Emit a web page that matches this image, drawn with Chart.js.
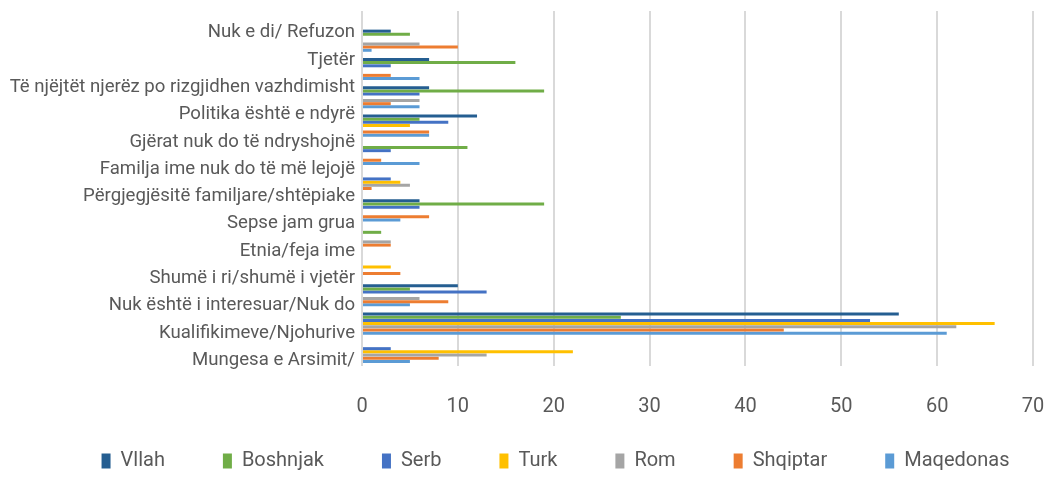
<!DOCTYPE html>
<html>
<head>
<meta charset="utf-8">
<script src="https://cdn.jsdelivr.net/npm/chart.js@4/dist/chart.umd.min.js"></script>
<style>
  html, body { margin: 0; padding: 0; background: #fff; }
  #wrap { width: 1055px; height: 484px; }
</style>
</head>
<body>
<div id="wrap"><canvas id="reasonsChart"></canvas></div>
<script>
// Reasons, top to bottom (one bar group each)
const categories = [
    'Nuk e di/ Refuzon',
    'Tjetër',
    'Të njëjtët njerëz po rizgjidhen vazhdimisht',
    'Politika është e ndyrë',
    'Gjërat nuk do të ndryshojnë',
    'Familja ime nuk do të më lejojë',
    'Përgjegjësitë familjare/shtëpiake',
    'Sepse jam grua',
    'Etnia/feja ime',
    'Shumë i ri/shumë i vjetër',
    'Nuk është i interesuar/Nuk do',
    'Mungesa e Arsimit/ Kualifikimeve/Njohurive'
];

// Axis text as it is printed (last reason wraps onto two lines)
const axisLabels = [
    'Nuk e di/ Refuzon',
    'Tjetër',
    'Të njëjtët njerëz po rizgjidhen vazhdimisht',
    'Politika është e ndyrë',
    'Gjërat nuk do të ndryshojnë',
    'Familja ime nuk do të më lejojë',
    'Përgjegjësitë familjare/shtëpiake',
    'Sepse jam grua',
    'Etnia/feja ime',
    'Shumë i ri/shumë i vjetër',
    'Nuk është i interesuar/Nuk do',
    'Kualifikimeve/Njohurive',
    'Mungesa e Arsimit/'
];

// Percent per ethnic group
const vllah     = [3, 7, 7, 12, 0, 0, 6, 0, 0, 10, 56, 0];
const boshnjak  = [5, 16, 19, 6, 11, 0, 19, 2, 0, 5, 27, 0];
const serb      = [0, 3, 6, 9, 3, 3, 6, 0, 0, 13, 53, 3];
const turk      = [0, 0, 0, 5, 0, 4, 0, 0, 3, 0, 66, 22];
const rom       = [6, 0, 6, 0, 0, 5, 0, 3, 0, 6, 62, 13];
const shqiptar  = [10, 3, 3, 7, 2, 1, 7, 3, 4, 9, 44, 8];
const maqedonas = [1, 6, 6, 7, 6, 0, 4, 0, 0, 5, 61, 5];

const seriesNames = ['Vllah', 'Boshnjak', 'Serb', 'Turk', 'Rom', 'Shqiptar', 'Maqedonas'];
const seriesValues = [vllah, boshnjak, serb, turk, rom, shqiptar, maqedonas];
const seriesColors = ['#255e91', '#70ad47', '#4472c4', '#ffc000', '#a5a5a5', '#ed7d31', '#5b9bd5'];

const xMax = 70;
const xStep = 10;

const textColor = '#595959';
Chart.defaults.font.family = 'Roboto';

// the wide legend spacing makes the legend box tall; move its items up
// and a bit to the right, like the original
const legendPlace = {
    id: 'legendPlace',
    afterLayout(chart) {
        const lg = chart.legend;
        lg.top -= 26;
        lg.bottom -= 26;
        lg.left += 39;
        lg.right += 39;
    }
};

function initializeChart() {
    const ctx = document.getElementById('reasonsChart').getContext('2d');

    const datasets = seriesNames.map((name, s) => ({
        label: name,
        data: seriesValues[s].map((v, i) => ({ x: v, y: i })),
        backgroundColor: seriesColors[s],
        categoryPercentage: 0.79,
        barPercentage: 0.94
    }));

    window.reasonsChart = new Chart(ctx, {
        type: 'bar',
        data: {
            labels: categories,
            datasets: datasets
        },
        plugins: [legendPlace],
        options: {
            indexAxis: 'y',
            responsive: true,
            maintainAspectRatio: false,
            animation: false,
            layout: {
                padding: { top: 11, right: 22, bottom: -23, left: 0 }
            },
            scales: {
                x: {
                    type: 'linear',
                    min: 0,
                    max: xMax,
                    ticks: {
                        stepSize: xStep,
                        padding: 29,
                        color: textColor,
                        font: { size: 20 }
                    },
                    grid: { color: '#d9d9d9', lineWidth: 2, drawTicks: false },
                    border: { display: false },
                    afterFit: (s) => {
                        s.height = 53;
                        s.paddingLeft = 0;
                        s.paddingRight = 0;
                    }
                },
                // bars sit on this one
                y: {
                    type: 'linear',
                    reverse: true,
                    offset: false,
                    min: -1.05,
                    max: 11.5,
                    display: false
                },
                // printed reason text
                yText: {
                    type: 'category',
                    labels: axisLabels,
                    position: 'left',
                    offset: true,
                    grid: { display: false, drawTicks: false },
                    border: { display: false },
                    ticks: {
                        autoSkip: false,
                        labelOffset: 8,
                        padding: 7,
                        color: textColor,
                        font: { size: 18.6 }
                    },
                    afterFit: (s) => {
                        s.width = 362;
                        s.paddingTop = 0;
                        s.paddingBottom = 0;
                    }
                }
            },
            plugins: {
                legend: {
                    position: 'bottom',
                    labels: {
                        boxWidth: 9,
                        boxHeight: 15,
                        padding: 58,
                        color: textColor,
                        font: { size: 20 }
                    }
                },
                tooltip: { enabled: false }
            }
        }
    });
}

initializeChart();
</script>
</body>
</html>
